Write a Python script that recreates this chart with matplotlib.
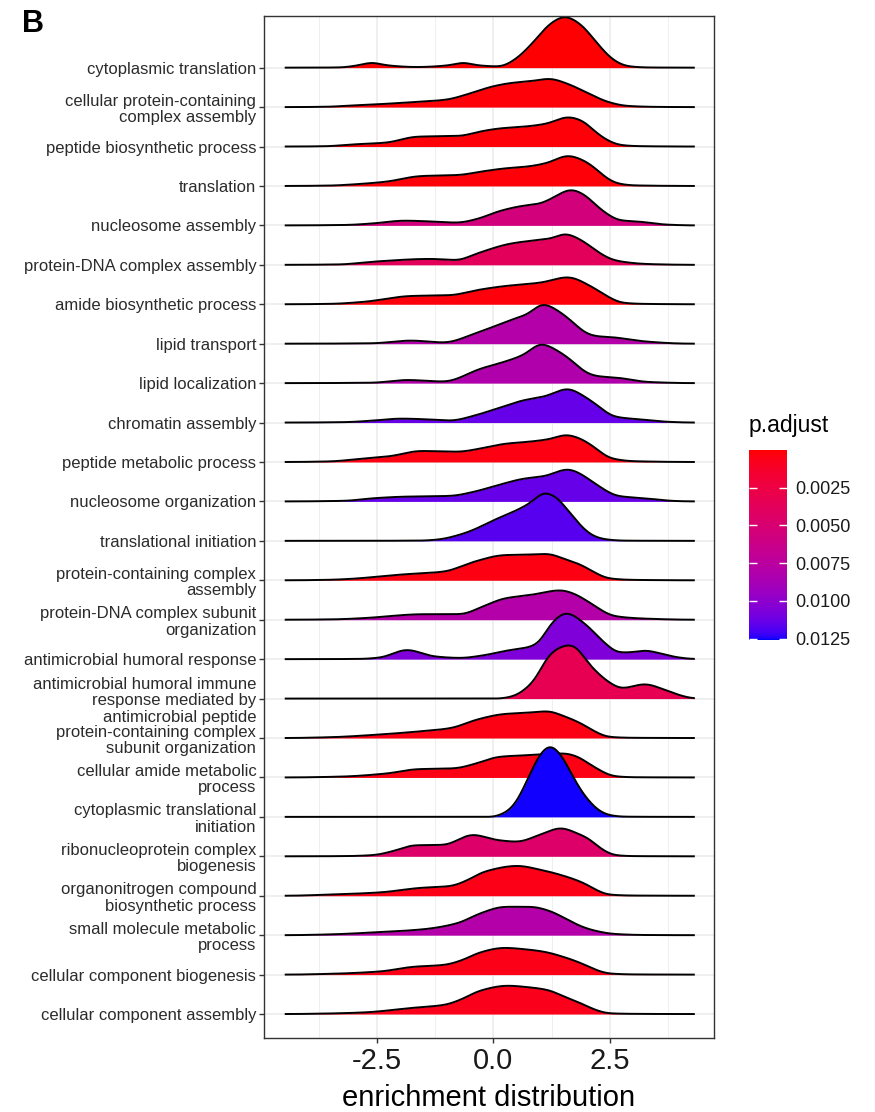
import numpy as np
import matplotlib
matplotlib.use("Agg")
import matplotlib.pyplot as plt
from matplotlib.colors import ListedColormap, Normalize
from matplotlib.cm import ScalarMappable

plt.rcParams['font.family'] = ['Liberation Sans', 'DejaVu Sans']

# ---------------- data ----------------
categories = [
    "cytoplasmic translation",
    "cellular protein-containing\ncomplex assembly",
    "peptide biosynthetic process",
    "translation",
    "nucleosome assembly",
    "protein-DNA complex assembly",
    "amide biosynthetic process",
    "lipid transport",
    "lipid localization",
    "chromatin assembly",
    "peptide metabolic process",
    "nucleosome organization",
    "translational initiation",
    "protein-containing complex\nassembly",
    "protein-DNA complex subunit\norganization",
    "antimicrobial humoral response",
    "antimicrobial humoral immune\nresponse mediated by\nantimicrobial peptide",
    "protein-containing complex\nsubunit organization",
    "cellular amide metabolic\nprocess",
    "cytoplasmic translational\ninitiation",
    "ribonucleoprotein complex\nbiogenesis",
    "organonitrogen compound\nbiosynthetic process",
    "small molecule metabolic\nprocess",
    "cellular component biogenesis",
    "cellular component assembly",
]

p_adjust = [0.0001, 0.0002, 0.0002, 0.0002, 0.0055, 0.0038, 0.0003, 0.0080,
            0.0082, 0.0114, 0.0004, 0.0114, 0.0117, 0.0004, 0.0080, 0.0106,
            0.0033, 0.0005, 0.0005, 0.0125, 0.0045, 0.0006, 0.0080, 0.0006,
            0.0007]

# density heights (in row units) read at x positions along each ridge
ridge_points = [
    [(-4.48, 0), (-3.3, .005), (-2.9, .06), (-2.61, .13), (-2.3, .06), (-1.65, .015),
     (-0.95, .06), (-0.65, .13), (-0.35, .06), (0.14, .03), (0.45, .2), (0.85, .64),
     (1.2, 1.1), (1.53, 1.3), (1.88, 1.09), (2.21, .64), (2.57, .2), (2.86, .04),
     (3.3, .005), (4.32, 0)],
    [(-4.48, 0), (-3.5, .01), (-3.22, .03), (-2.51, .07), (-1.8, .12), (-1.0, .19),
     (-0.55, .33), (0.0, .53), (0.43, .62), (0.75, .65), (1.21, .72), (1.57, .6),
     (2.07, .33), (2.43, .14), (2.86, .03), (3.5, .005), (4.32, 0)],
    [(-4.48, 0), (-3.5, .01), (-3.22, .04), (-2.29, .1), (-1.65, .25), (-0.72, .27),
     (-0.29, .38), (0.14, .46), (0.71, .51), (1.14, .58), (1.6, .75), (1.93, .64),
     (2.14, .42), (2.43, .17), (2.71, .04), (3.1, .01), (4.32, 0)],
    [(-4.48, 0), (-3.5, .01), (-3.0, .04), (-2.29, .11), (-1.58, .25), (-0.72, .28),
     (-0.29, .36), (0.28, .45), (0.71, .49), (1.14, .58), (1.6, .77), (1.93, .65),
     (2.14, .49), (2.43, .2), (2.64, .07), (3.0, .015), (4.32, 0)],
    [(-4.48, 0), (-3.2, .01), (-2.58, .05), (-1.93, .12), (-1.35, .10), (-0.78, .07),
     (-0.3, .18), (0.09, .35), (0.59, .49), (1.02, .56), (1.24, .68), (1.67, .91),
     (1.96, .77), (2.24, .47), (2.53, .22), (2.68, .135), (3.18, .09), (3.7, .02),
     (4.32, 0)],
    [(-4.48, 0), (-3.3, .01), (-2.58, .08), (-1.35, .15), (-0.78, .12), (-0.35, .29),
     (0.37, .54), (0.95, .63), (1.24, .67), (1.53, .79), (1.88, .63), (2.24, .33),
     (2.53, .14), (2.75, .08), (3.3, .02), (4.32, 0)],
    [(-4.48, 0), (-3.5, .01), (-2.79, .06), (-1.78, .21), (-0.92, .23), (-0.35, .36),
     (0.23, .46), (1.02, .55), (1.6, .69), (2.1, .45), (2.46, .19), (2.75, .04),
     (3.2, .01), (4.32, 0)],
    [(-4.48, 0), (-2.6, .01), (-1.78, .08), (-1.06, .03), (-0.35, .28), (0.37, .6),
     (0.73, .75), (1.06, 1.01), (1.38, .84), (1.67, .58), (2.0, .26), (2.2, .19),
     (2.6, .16), (3.0, .09), (3.32, .05), (4.0, .005), (4.32, 0)],
    [(-4.48, 0), (-2.6, .01), (-1.86, .08), (-1.06, .04), (-0.27, .37), (0.23, .54),
     (0.65, .72), (1.02, 1.0), (1.35, .84), (1.67, .58), (2.0, .26), (2.2, .18),
     (2.68, .135), (3.3, .03), (4.32, 0)],
    [(-4.48, 0), (-3.2, .01), (-2.58, .05), (-2.0, .10), (-1.4, .08), (-0.92, .05),
     (-0.4, .18), (0.09, .36), (0.66, .57), (1.09, .66), (1.6, .86), (1.9, .7),
     (2.17, .49), (2.6, .15), (3.25, .07), (3.8, .015), (4.32, 0)],
    [(-4.48, 0), (-3.5, .015), (-2.94, .07), (-2.2, .15), (-1.57, .28), (-0.78, .26),
     (-0.2, .36), (0.23, .46), (0.81, .52), (1.2, .58), (1.56, .69), (1.85, .6),
     (2.1, .43), (2.53, .09), (3.0, .02), (4.32, 0)],
    [(-4.48, 0), (-3.2, .015), (-2.58, .08), (-1.93, .12), (-0.92, .14), (-0.4, .25),
     (0.09, .41), (0.66, .58), (1.09, .64), (1.6, .82), (1.9, .68), (2.17, .46),
     (2.68, .135), (3.25, .08), (3.9, .01), (4.32, 0)],
    [(-4.48, 0), (-1.6, .005), (-1.21, .03), (-0.63, .19), (0.09, .57), (0.52, .79),
     (0.8, .97), (1.09, 1.23), (1.38, 1.08), (1.53, .87), (1.74, .57), (1.96, .28),
     (2.17, .11), (2.39, .04), (2.8, .005), (4.32, 0)],
    [(-4.48, 0), (-3.6, .01), (-3.15, .03), (-1.93, .15), (-1.06, .22), (-0.42, .47),
     (0.23, .64), (0.7, .65), (1.17, .67), (1.5, .55), (1.88, .39), (2.2, .18),
     (2.46, .05), (3.0, .01), (4.32, 0)],
    [(-4.48, 0), (-3.4, .01), (-2.79, .04), (-1.5, .14), (-0.71, .14), (-0.2, .35),
     (0.23, .54), (0.81, .63), (1.45, .75), (1.75, .65), (2.03, .46), (2.6, .09),
     (3.2, .03), (4.32, 0)],
    [(-4.48, 0), (-2.9, .005), (-2.43, .04), (-1.86, .24), (-1.28, .07), (-0.71, .03),
     (-0.2, .1), (0.3, .22), (0.81, .32), (1.0, .45), (1.2, .85), (1.56, 1.18),
     (1.96, .9), (2.39, .41), (2.68, .17), (2.9, .17), (3.25, .22), (3.6, .14),
     (3.83, .07), (4.32, .005)],
    [(-4.48, 0), (0.09, 0), (0.45, .07), (0.66, .22), (0.88, .47), (1.17, 1.07),
     (1.4, 1.29), (1.67, 1.37), (2.1, .81), (2.46, .43), (2.75, .26), (3.25, .37),
     (3.68, .22), (4.04, .07), (4.32, .005)],
    [(-4.48, 0), (-3.51, .02), (-2.43, .09), (-1.57, .17), (-0.92, .25), (-0.35, .47),
     (0.23, .61), (0.7, .64), (1.17, .68), (1.5, .56), (1.88, .37), (2.2, .15),
     (2.46, .03), (3.0, .005), (4.32, 0)],
    [(-4.48, 0), (-3.3, .02), (-2.29, .1), (-1.64, .21), (-0.85, .23), (-0.3, .38),
     (0.09, .52), (0.81, .57), (1.2, .6), (1.53, .61), (1.8, .53), (2.1, .31),
     (2.6, .03), (3.0, .005), (4.32, 0)],
    [(-4.48, 0), (0.0, 0), (0.09, .03), (0.3, .14), (0.52, .43), (0.65, .75),
     (0.81, 1.15), (1.0, 1.6), (1.22, 1.82), (1.45, 1.57), (1.67, 1.1), (1.85, .72),
     (2.03, .43), (2.25, .17), (2.46, .05), (2.8, .005), (4.32, 0)],
    [(-4.48, 0), (-3.2, .005), (-2.58, .03), (-2.1, .15), (-1.71, .28), (-1.06, .29),
     (-0.45, .55), (0.09, .41), (0.52, .37), (1.0, .55), (1.45, .72), (1.8, .58),
     (2.03, .46), (2.3, .2), (2.6, .03), (3.0, .005), (4.32, 0)],
    [(-4.48, 0), (-3.51, .03), (-2.43, .085), (-1.57, .2), (-0.92, .245), (-0.55, .4),
     (-0.2, .61), (0.52, .76), (1.0, .66), (1.38, .55), (1.96, .31), (2.2, .15),
     (2.46, .03), (3.0, .005), (4.32, 0)],
    [(-4.48, 0), (-3.5, .02), (-2.58, .07), (-1.5, .15), (-0.78, .30), (-0.27, .56),
     (0.23, .72), (0.81, .72), (1.24, .6), (1.53, .43), (1.81, .26), (2.1, .135),
     (2.6, .03), (3.2, .005), (4.32, 0)],
    [(-4.48, 0), (-3.5, .02), (-2.43, .08), (-1.71, .2), (-1.06, .245), (-0.6, .4),
     (-0.35, .54), (0.23, .68), (0.7, .64), (1.09, .58), (1.5, .45), (1.88, .29),
     (2.2, .12), (2.46, .03), (3.0, .005), (4.32, 0)],
    [(-4.48, 0), (-3.5, .015), (-2.79, .04), (-1.71, .16), (-1.06, .23), (-0.6, .42),
     (-0.35, .57), (0.3, .72), (0.75, .68), (1.17, .61), (1.5, .45), (1.88, .27),
     (2.2, .1), (2.46, .02), (3.0, .005), (4.32, 0)],
]

x_ticks = [-2.5, 0.0, 2.5]
x_tick_labels = ["-2.5", "0.0", "2.5"]
x_minor = [-3.75, -1.25, 1.25, 3.75]
cbar_ticks = [0.0025, 0.0050, 0.0075, 0.0100, 0.0125]
cbar_labels = ["0.0025", "0.0050", "0.0075", "0.0100", "0.0125"]
p_range = (0.00002, 0.01258)


# ---------------- helpers ----------------
def pchip(xk, yk, xs):
    xk = np.asarray(xk, float)
    yk = np.asarray(yk, float)
    h = np.diff(xk)
    d = np.diff(yk) / h
    m = np.zeros_like(yk)
    for k in range(1, len(xk) - 1):
        if d[k - 1] * d[k] > 0:
            w1 = 2 * h[k] + h[k - 1]
            w2 = h[k] + 2 * h[k - 1]
            m[k] = (w1 + w2) / (w1 / d[k - 1] + w2 / d[k])
    idx = np.clip(np.searchsorted(xk, xs) - 1, 0, len(h) - 1)
    t = (xs - xk[idx]) / h[idx]
    h00 = 2 * t**3 - 3 * t**2 + 1
    h10 = t**3 - 2 * t**2 + t
    h01 = -2 * t**3 + 3 * t**2
    h11 = t**3 - t**2
    return h00 * yk[idx] + h10 * h[idx] * m[idx] + h01 * yk[idx + 1] + h11 * h[idx] * m[idx + 1]


def soften(y, dx, sd=0.1):
    # round off the corners of the drawn outline
    k = np.arange(-int(4 * sd / dx), int(4 * sd / dx) + 1) * dx
    w = np.exp(-0.5 * (k / sd) ** 2)
    w /= w.sum()
    pad = len(k) // 2
    yp = np.concatenate([np.full(pad, y[0]), y, np.full(pad, y[-1])])
    return np.convolve(yp, w, mode='valid')


def srgb_to_lab(rgb):
    rgb = np.asarray(rgb, float)
    lin = np.where(rgb <= 0.04045, rgb / 12.92, ((rgb + 0.055) / 1.055) ** 2.4)
    M = np.array([[0.4124, 0.3576, 0.1805], [0.2126, 0.7152, 0.0722], [0.0193, 0.1192, 0.9505]])
    xyz = M @ lin / np.array([0.95047, 1.0, 1.08883])
    f = np.where(xyz > 0.008856, np.cbrt(xyz), 7.787 * xyz + 16 / 116)
    return np.array([116 * f[1] - 16, 500 * (f[0] - f[1]), 200 * (f[1] - f[2])])


def lab_to_srgb(lab):
    L, a, b = lab
    fy = (L + 16) / 116
    fx = fy + a / 500
    fz = fy - b / 200
    f = np.array([fx, fy, fz])
    xyz = np.where(f**3 > 0.008856, f**3, (f - 16 / 116) / 7.787) * np.array([0.95047, 1.0, 1.08883])
    Minv = np.array([[3.2406, -1.5372, -0.4986], [-0.9689, 1.8758, 0.0415], [0.0557, -0.2040, 1.0570]])
    lin = np.clip(Minv @ xyz, 0, 1)
    rgb = np.where(lin <= 0.0031308, 12.92 * lin, 1.055 * lin ** (1 / 2.4) - 0.055)
    return np.clip(rgb, 0, 1)


lab_lo = srgb_to_lab([1, 0, 0])
lab_hi = srgb_to_lab([0, 0, 1])
cmap = ListedColormap([lab_to_srgb((1 - t) * lab_lo + t * lab_hi) for t in np.linspace(0, 1, 256)])
norm = Normalize(vmin=p_range[0], vmax=p_range[1])

# ---------------- figure ----------------
W, H = 875, 1112
fig = plt.figure(figsize=(W / 100, H / 100), dpi=100)
L, R, T, B = 264, 714, 16, 1037.7
ax = fig.add_axes([L / W, 1 - B / H, (R - L) / W, (B - T) / H])

x0_px, ppu = 493.5, 46.6
ax.set_xlim((L - x0_px) / ppu, (R - x0_px) / ppu)
n = len(categories)
ax.set_ylim(0.4, n + 1.31)

ax.set_xticks(x_ticks)
ax.set_xticklabels(x_tick_labels)
ax.set_xticks(x_minor, minor=True)
ypos = [n - i for i in range(n)]
ax.set_yticks(ypos)
ax.set_yticklabels(categories, linespacing=1.12)

ax.grid(which='major', color='#EBEBEB', lw=1.1, zorder=0)
ax.grid(which='minor', axis='x', color='#EBEBEB', lw=0.55, zorder=0)
ax.set_axisbelow(True)

xs = np.linspace(-4.48, 4.32, 881)
dx = xs[1] - xs[0]
for i, (pts, p) in enumerate(zip(ridge_points, p_adjust)):
    base = ypos[i]
    px_, ph_ = zip(*pts)
    hs = soften(np.maximum(pchip(px_, ph_, xs), 0), dx)
    ax.fill_between(xs, base, base + hs, color=cmap(norm(p)), lw=0, zorder=2 + 2 * i)
    ax.plot(xs, base + hs, color='black', lw=1.4, zorder=3 + 2 * i, solid_capstyle='butt')

for s in ax.spines.values():
    s.set_color('#333333')
    s.set_linewidth(1.0)
    s.set_zorder(100)

ax.tick_params(axis='y', which='major', length=3.5, width=1, color='#333333',
               pad=2, labelsize=12, labelcolor='#2b2b2b')
ax.tick_params(axis='x', which='major', length=3.5, width=1, color='#333333',
               pad=3.5, labelsize=21, labelcolor='#1a1a1a')
ax.tick_params(axis='x', which='minor', length=0)
ax.set_xlabel("enrichment distribution", fontsize=21, color='black', labelpad=6)

# colour bar
cax = fig.add_axes([749 / W, 1 - 640 / H, 38 / W, 190 / H])
sm = ScalarMappable(norm=norm, cmap=cmap)
cb = fig.colorbar(sm, cax=cax, ticks=cbar_ticks)
cb.set_ticklabels(cbar_labels)
cax.invert_yaxis()
cb.outline.set_visible(False)
cax.minorticks_off()
cax.tick_params(which='major', direction='in', length=5.5, width=1, color='white',
                left=True, right=True, labelleft=False, labelright=True,
                labelsize=13, pad=6, labelcolor='#1a1a1a')
fig.text(749 / W, 1 - 432 / H, "p.adjust", fontsize=16.5, va='baseline', ha='left')

fig.text(22 / W, 1 - 32 / H, "B", fontsize=22, fontweight='bold', va='baseline', ha='left')

fig.savefig("out.png", dpi=100)
